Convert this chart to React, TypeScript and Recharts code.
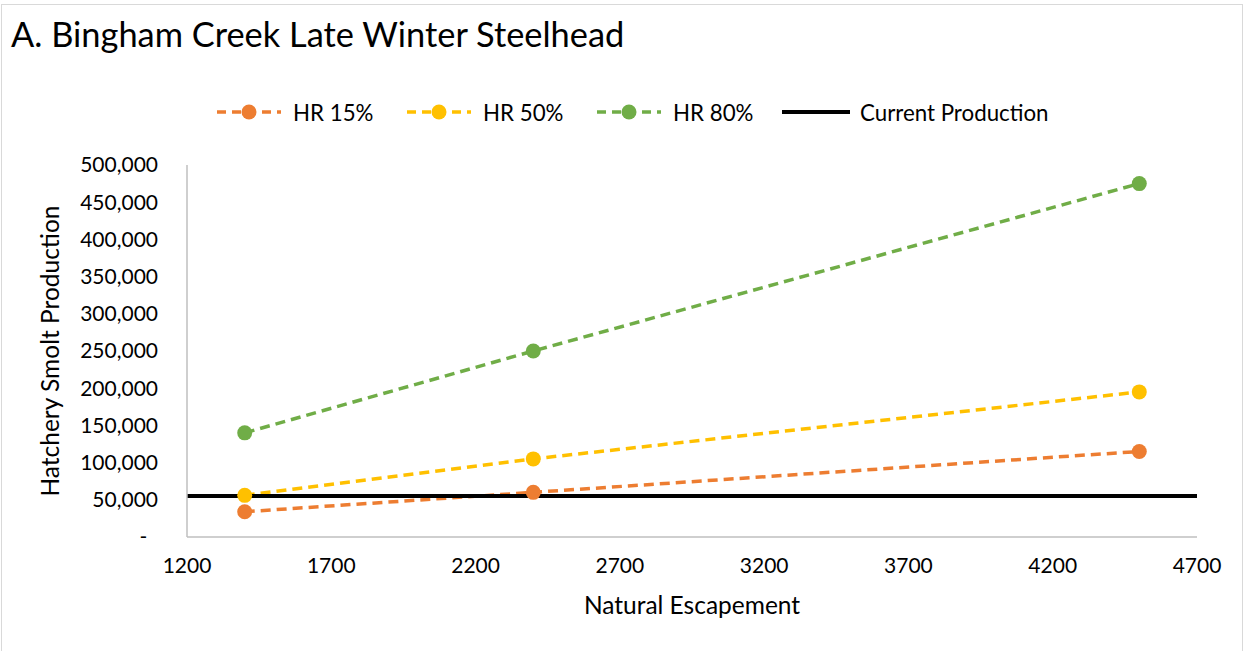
import React from 'react';
import { LineChart, Line, XAxis, YAxis, Legend } from 'recharts';

const escapement = [1400, 2400, 4500];
const hr15 = [34000, 60000, 115000];
const hr50 = [56000, 105000, 195000];
const hr80 = [140000, 250000, 475000];
const currentX = [1200, 4700];
const currentProduction = [55000, 55000];

const xTicks = [1200, 1700, 2200, 2700, 3200, 3700, 4200, 4700];
const yTicks = [0, 50000, 100000, 150000, 200000, 250000, 300000, 350000, 400000, 450000, 500000];

const FONT = 'Lato, "Open Sans", sans-serif';

const SERIES = [
  { key: 'hr15', name: 'HR 15%', color: '#ED7D31', values: hr15 },
  { key: 'hr50', name: 'HR 50%', color: '#FFC000', values: hr50 },
  { key: 'hr80', name: 'HR 80%', color: '#70AD47', values: hr80 },
];

const toPoints = (xs: number[], ys: number[]) => xs.map((x, i) => ({ x, y: ys[i] }));

const LEGEND_LEFT = [215, 405, 595, 782];

function ChartLegend() {
  const items = [
    ...SERIES.map(s => ({ name: s.name, color: s.color, dashed: true })),
    { name: 'Current Production', color: '#000000', dashed: false },
  ];
  return (
    <div style={{ position: 'relative', height: 30, width: 1249 }}>
      {items.map((item, i) => (
        <div
          key={item.name}
          style={{
            position: 'absolute', left: LEGEND_LEFT[i], top: 0, height: 30,
            display: 'flex', alignItems: 'center',
          }}
        >
          <svg width={68} height={30}>
            {item.dashed ? (
              <>
                <line x1={2} y1={15} x2={66} y2={15} stroke={item.color} strokeWidth={3.5}
                  strokeDasharray="9 6" />
                <circle cx={34} cy={15} r={7.5} fill={item.color} />
              </>
            ) : (
              <line x1={0} y1={15} x2={68} y2={15} stroke={item.color} strokeWidth={4} />
            )}
          </svg>
          <span style={{ marginLeft: 10, fontFamily: FONT, fontSize: 22.3, color: '#000' }}>{item.name}</span>
        </div>
      ))}
    </div>
  );
}

export default function App() {
  return (
    <div style={{ position: 'absolute', left: 0, top: 0, width: 1249, height: 651, overflow: 'hidden', background: '#fff' }}>
      <div style={{ position: 'absolute', left: 1, top: 4, width: 1242, height: 700, border: '1px solid #d9d9d9', boxSizing: 'border-box' }} />
      <div style={{ position: 'absolute', left: 11, top: 13, fontFamily: FONT, fontSize: 34.4, color: '#000', whiteSpace: 'nowrap' }}>
        A. Bingham Creek Late Winter Steelhead
      </div>
      <div style={{ position: 'absolute', left: 0, top: 0 }}>
        <LineChart width={1249} height={651} margin={{ top: 135, right: 52, bottom: 34, left: 0 }}>
          <Legend verticalAlign="top" content={() => <ChartLegend />}
            wrapperStyle={{ top: 97, left: 0, width: 1249, height: 30 }} />
          <XAxis
            type="number"
            dataKey="x"
            domain={[1200, 4700]}
            ticks={xTicks}
            allowDataOverflow
            tickLine={false}
            axisLine={{ stroke: '#bfbfbf', strokeWidth: 1.5 }}
            tick={{ fill: '#000', fontSize: 21, fontFamily: FONT }}
            tickMargin={15}
            height={80}
            label={{ value: 'Natural Escapement', position: 'insideBottom', offset: 3, fill: '#000', fontSize: 24.5, fontFamily: FONT }}
          />
          <YAxis
            type="number"
            dataKey="y"
            domain={[0, 500000]}
            ticks={yTicks}
            width={187}
            tickLine={false}
            axisLine={{ stroke: '#bfbfbf', strokeWidth: 1.5 }}
            tick={{ fill: '#000', fontSize: 21, fontFamily: FONT }}
            tickMargin={23}
            tickFormatter={(v: number) => (v === 0 ? '-\u00a0\u00a0' : v.toLocaleString('en-US'))}
            label={{
              value: 'Hatchery Smolt Production', angle: -90, position: 'insideLeft', offset: 50,
              fill: '#000', fontSize: 24.5, fontFamily: FONT, style: { textAnchor: 'middle' },
            }}
          />
          {SERIES.map(s => (
            <Line
              key={s.key}
              data={toPoints(escapement, s.values)}
              dataKey="y"
              name={s.name}
              stroke={s.color}
              strokeWidth={3.5}
              strokeDasharray="10 6"
              dot={{ r: 7.5, fill: s.color, stroke: s.color, strokeWidth: 0, strokeDasharray: '' }}
              activeDot={false}
              isAnimationActive={false}
            />
          ))}
          <Line
            data={toPoints(currentX, currentProduction)}
            dataKey="y"
            name="Current Production"
            stroke="#000"
            strokeWidth={4}
            dot={false}
            activeDot={false}
            isAnimationActive={false}
          />
        </LineChart>
      </div>
    </div>
  );
}
